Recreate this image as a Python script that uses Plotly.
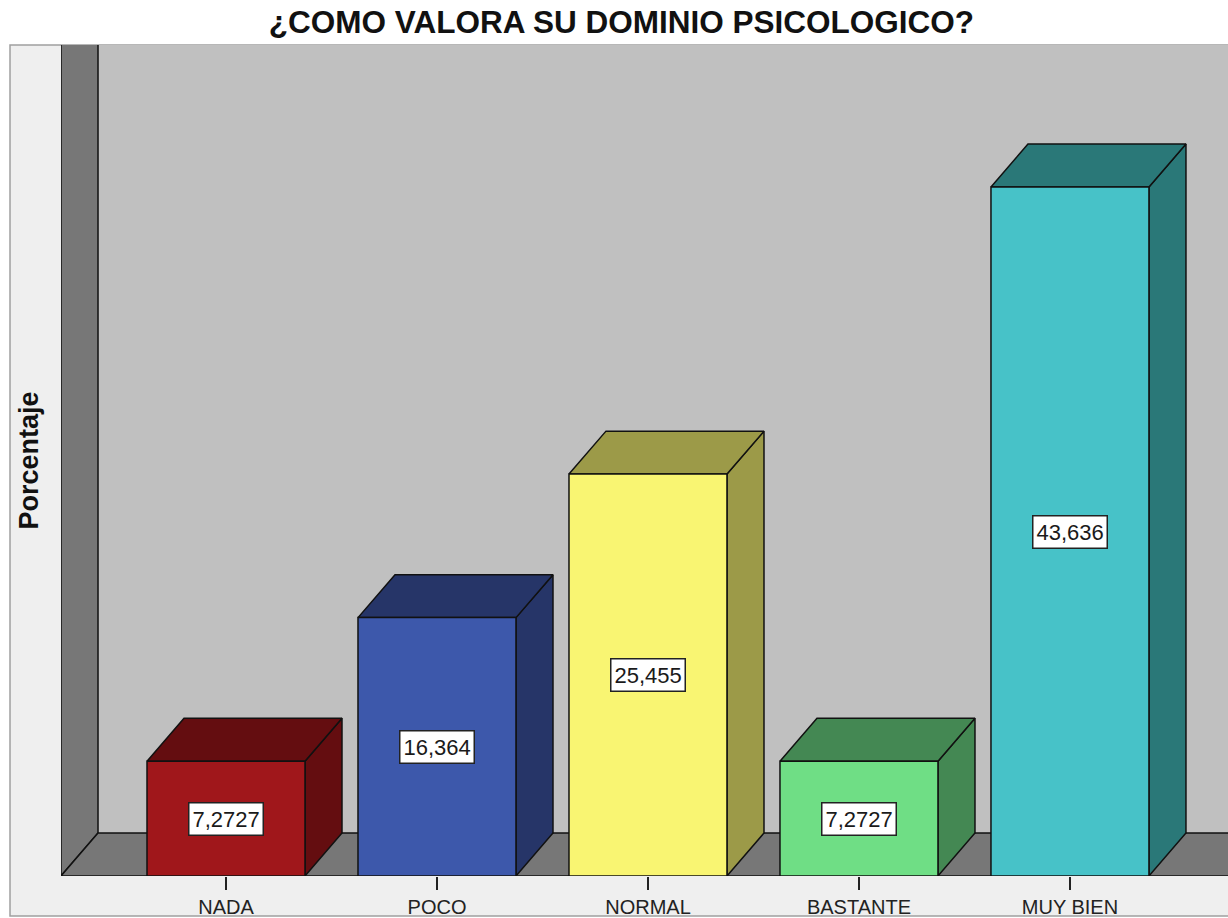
import plotly.graph_objects as go

# ---- data ----
categories = ["NADA", "POCO", "NORMAL", "BASTANTE", "MUY BIEN"]
percentages = [7.2727, 16.364, 25.455, 7.2727, 43.636]
value_labels = ["7,2727", "16,364", "25,455", "7,2727", "43,636"]
front_colors = ["#a0171b", "#3d58ab", "#f9f572", "#6fde85", "#47c2c8"]
shade_colors = ["#640d10", "#263568", "#9c9a48", "#448853", "#2a7878"]

# ---- style constants ----
HALF_W = 0.3744      # half bar width (category units)
DX = 0.1754          # depth offset in x (category units)
DY = 2.72            # depth offset in y (percentage units)
X_MIN, X_MAX = -0.782, 4.749
Y_MAX = 52.63
WALL = "#777777"
BACK = "#c0c0c0"
EDGE = dict(color="#111111", width=1.5)

fig = go.Figure()

def poly(xs, ys, fill, line=EDGE):
    fig.add_trace(go.Scatter(
        x=xs + [xs[0]], y=ys + [ys[0]], mode="lines", fill="toself",
        fillcolor=fill, line=line, hoverinfo="skip", showlegend=False))

# back wall
poly([X_MIN - 1, X_MAX + 1, X_MAX + 1, X_MIN - 1], [-1, -1, Y_MAX + 5, Y_MAX + 5], BACK,
     line=dict(color=BACK, width=0))
# left wall
poly([X_MIN, X_MIN, X_MIN + DX, X_MIN + DX], [Y_MAX + 5, 0, DY, Y_MAX + 5], WALL)
# floor
poly([X_MIN, X_MAX + 1, X_MAX + 1, X_MIN + DX], [0, 0, DY, DY], WALL)

# bars
for i, (v, fc, sc) in enumerate(zip(percentages, front_colors, shade_colors)):
    xl, xr = i - HALF_W, i + HALF_W
    poly([xr, xr + DX, xr + DX, xr], [0, DY, v + DY, v], sc)          # side
    poly([xl, xl + DX, xr + DX, xr], [v, v + DY, v + DY, v], sc)      # top
    poly([xl, xr, xr, xl], [0, 0, v, v], fc)                          # front
    fig.add_annotation(
        x=i, y=v / 2, text=value_labels[i], showarrow=False,
        font=dict(family="Liberation Sans, Arial", size=22, color="#1a1a1a"),
        bgcolor="white", bordercolor="#222222", borderwidth=1.5, borderpad=3)

# outer frame
fig.add_shape(type="rect", xref="paper", yref="paper",
              x0=-0.0437, x1=1.02, y0=-0.0481, y1=1.0,
              fillcolor="#efefef", line=dict(color="#a0a0a0", width=1.5),
              layer="below")

fig.update_layout(
    width=1228, height=918,
    margin=dict(l=61, r=0, t=45, b=42, autoexpand=False),
    paper_bgcolor="white",
    plot_bgcolor="rgba(0,0,0,0)",
    title=dict(text="<b>¿COMO VALORA SU DOMINIO PSICOLOGICO?</b>",
               x=0.506, xref="container", y=0.976, yref="container",
               xanchor="center", yanchor="middle",
               font=dict(family="Liberation Sans, Arial", size=31.5, color="#111111")),
    xaxis=dict(range=[X_MIN, X_MAX], tickvals=list(range(len(categories))),
               ticktext=categories, ticks="outside", ticklen=13, tickwidth=1.5,
               tickcolor="#222222", showgrid=False, zeroline=False, showline=False,
               tickfont=dict(family="Liberation Sans, Arial", size=20, color="#222222"),
               fixedrange=True, automargin=False),
    yaxis=dict(range=[0, Y_MAX], showticklabels=False, ticks="", showgrid=False,
               zeroline=False, showline=False, fixedrange=True, automargin=False,
               title=dict(text="<b>Porcentaje</b>", standoff=13,
                          font=dict(family="Liberation Sans, Arial", size=27, color="#111111"))),
)

fig.write_html("out.html", config={"displayModeBar": False},
               post_script="document.body.style.margin='0';document.body.style.padding='0';")
